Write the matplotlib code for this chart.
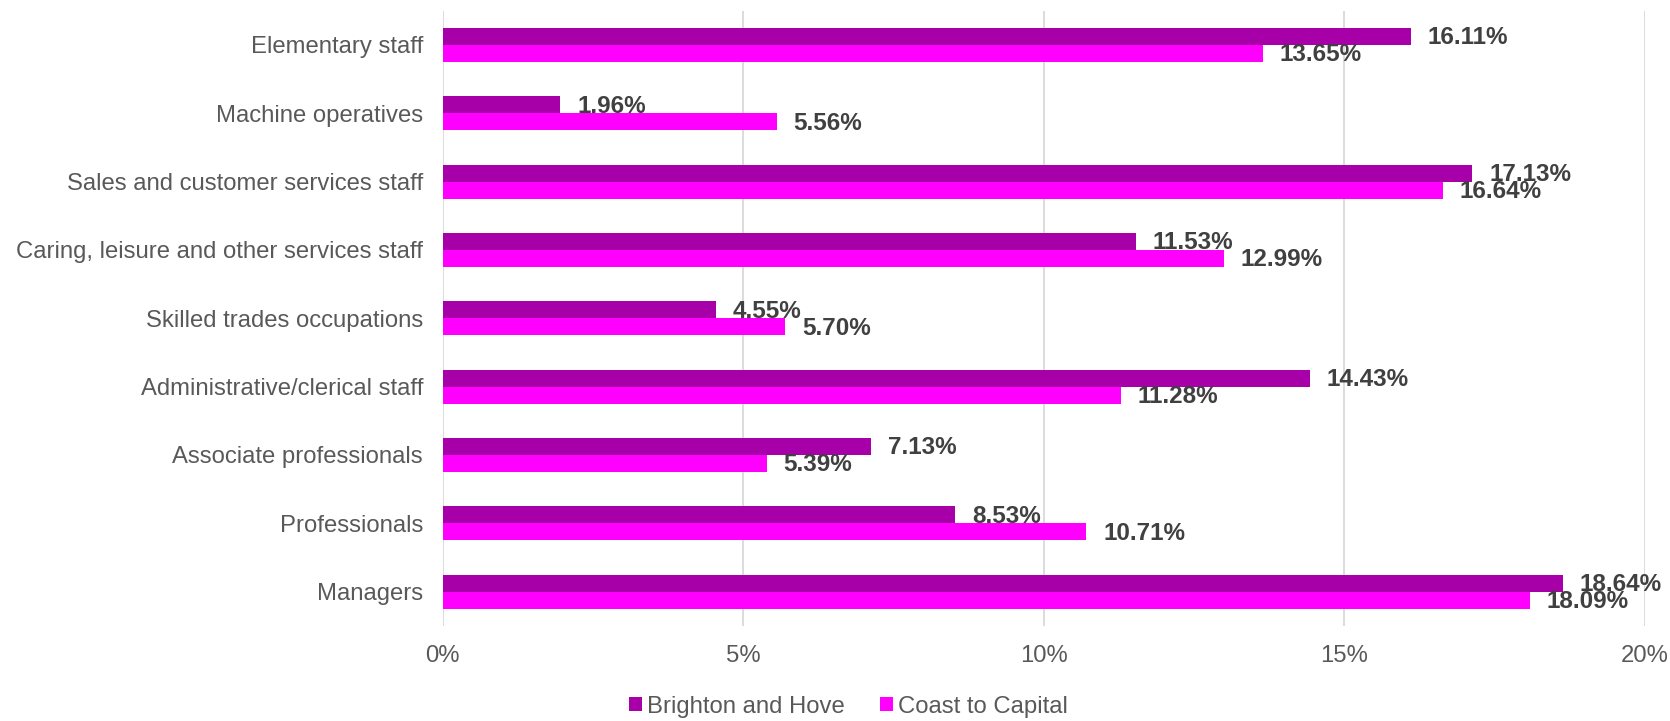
import numpy as np
import matplotlib
matplotlib.use("Agg")
import matplotlib.pyplot as plt

plt.rcParams['font.family'] = ['Liberation Sans', 'DejaVu Sans']

categories = ["Managers", "Professionals", "Associate professionals",
              "Administrative/clerical staff", "Skilled trades occupations",
              "Caring, leisure and other services staff",
              "Sales and customer services staff", "Machine operatives",
              "Elementary staff"]
brighton = [18.64, 8.53, 7.13, 14.43, 4.55, 11.53, 17.13, 1.96, 16.11]
coast = [18.09, 10.71, 5.39, 11.28, 5.70, 12.99, 16.64, 5.56, 13.65]
series_names = ["Brighton and Hove", "Coast to Capital"]
colors = ["#A800A8", "#FF00FF"]

fig = plt.figure(figsize=(16.7, 7.21), dpi=100)
ax = fig.add_axes([0.265, 0.132, 0.72, 0.853])

y = np.arange(len(categories))
h = 0.25
b1 = ax.barh(y + h / 2, brighton, height=h, color=colors[0], label=series_names[0])
b2 = ax.barh(y - h / 2, coast, height=h, color=colors[1], label=series_names[1])

# data labels
for bars, vals in [(b1, brighton), (b2, coast)]:
    for bar, v in zip(bars, vals):
        ax.annotate(f"{v:.2f}%", (v, bar.get_y() + bar.get_height() / 2),
                    xytext=(12, -1), textcoords="offset points",
                    va="center", ha="left", fontsize=17.5, fontweight="bold",
                    color="#404040")

ax.set_xlim(0, 20)
ax.set_ylim(-0.5, 8.5)
ax.set_xticks([0, 5, 10, 15, 20])
ax.set_xticklabels([f"{t}%" for t in [0, 5, 10, 15, 20]])
ax.set_yticks(y)
ax.set_yticklabels(categories)
ax.tick_params(axis="both", length=0, labelsize=17.2, labelcolor="#595959")
ax.tick_params(axis="x", pad=14)
ax.tick_params(axis="y", pad=14)
ax.xaxis.grid(True, color="#D9D9D9", linewidth=1.3)
ax.set_axisbelow(True)
for s in ax.spines.values():
    s.set_visible(False)

# legend centred below, roughly on the figure
leg = fig.legend(handles=[b1, b2], labels=series_names, loc="center",
                 bbox_to_anchor=(0.508, 0.02), ncol=2, frameon=False,
                 fontsize=17.2, handlelength=0.55, handleheight=0.55,
                 handletextpad=0.2, columnspacing=1.45)
for t in leg.get_texts():
    t.set_color("#595959")

fig.savefig("out.png", dpi=100)
